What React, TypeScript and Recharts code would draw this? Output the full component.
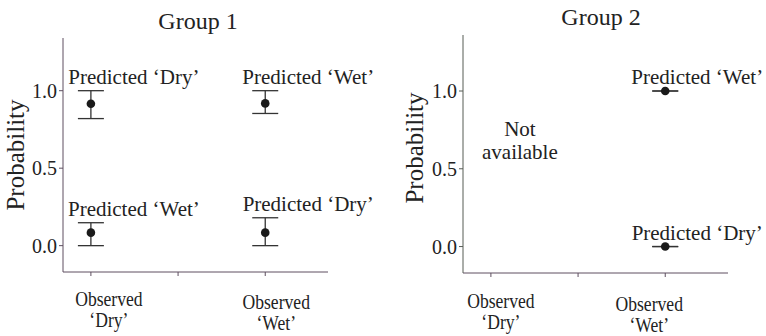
import React from 'react';
import { ComposedChart, ErrorBar, Scatter, XAxis, YAxis } from 'recharts';

const OBSERVED = ['‘Dry’', '‘Wet’'];
const Y_TICKS = [0, 0.5, 1];
const X_TICKS = [1, 1.5, 2];

// Group 1: observed class index (1 = Dry, 2 = Wet), predicted class, estimate and interval
const G1_OBS = [1, 1, 2, 2];
const G1_PRED = ['Dry', 'Wet', 'Wet', 'Dry'];
const G1_EST = [0.916, 0.084, 0.918, 0.084];
const G1_LOW = [0.82, 0, 0.853, 0];
const G1_HIGH = [1.0, 0.148, 1.0, 0.18];

// Group 2: only observed 'Wet' available
const G2_OBS = [2, 2];
const G2_PRED = ['Wet', 'Dry'];
const G2_EST = [1.0, 0.0];
const G2_LOW = [1.0, 0.0];
const G2_HIGH = [1.0, 0.0];

const FONT = '"Liberation Serif", "Times New Roman", serif';
const INK = '#222';
const AXIS = '#5e4f60';

function buildRows(obs: number[], pred: string[], est: number[], low: number[], high: number[]) {
  return obs.map((x, i) => ({
    x,
    y: est[i],
    err: [est[i] - low[i], high[i] - est[i]],
    upper: high[i],
    label: `Predicted ‘${pred[i]}’`,
  }));
}

type PanelProps = {
  title: string;
  rows: ReturnType<typeof buildRows>;
  yAxisWidth: number;
  margin: { top: number; right: number; bottom: number; left: number };
  yDomain: [number, number];
  xAxisHeight: number;
  yAxisColor: string;
  titleX: number;
  titleBaseline: number;
  yLabelX: number;
  yLabelShift: number;
  labelDx: number;
  tickDx: number[];
  tickDy: number[];
  note?: string[];
};

function Panel(p: PanelProps) {
  const XTick = (props: any) => {
    const { x, y, payload } = props;
    const idx = payload.value === 1 ? 0 : payload.value === 2 ? 1 : -1;
    if (idx < 0) return null;
    const tx = x + p.tickDx[idx];
    const ty = y + 28 + p.tickDy[idx];
    // the source lettering is a little narrow, so squeeze it horizontally
    return (
      <text
        transform={`translate(${tx},${ty}) scale(0.88,1)`}
        textAnchor="middle"
        fontFamily={FONT}
        fontSize={20}
        fill={INK}
      >
        <tspan x={0}>Observed</tspan>
        <tspan x={0} dy={21}>
          {OBSERVED[idx]}
        </tspan>
      </text>
    );
  };

  const labelRows = p.rows.map((r) => ({ x: r.x, y: r.upper, label: r.label }));

  return (
    <div style={{ position: 'relative', width: 383, height: 336 }}>
      <div
        style={{
          position: 'absolute',
          left: p.titleX - 100,
          width: 200,
          top: p.titleBaseline - 20,
          textAlign: 'center',
          fontFamily: FONT,
          fontSize: 24,
          lineHeight: '24px',
          color: INK,
        }}
      >
        {p.title}
      </div>
      <ComposedChart width={383} height={336} margin={p.margin}>
        <XAxis
          type="number"
          dataKey="x"
          domain={[0.84, 2.36]}
          ticks={X_TICKS}
          height={p.xAxisHeight}
          tickSize={4}
          stroke={AXIS}
          tickLine={{ stroke: AXIS }}
          tick={<XTick />}
        />
        <YAxis
          type="number"
          dataKey="y"
          domain={p.yDomain}
          ticks={Y_TICKS}
          width={p.yAxisWidth}
          tickSize={4}
          stroke={p.yAxisColor}
          tickFormatter={(v: number) => v.toFixed(1)}
          tick={{ fontFamily: FONT, fontSize: 20, fill: INK }}
          label={{
            content: (lp: any) => {
              const vb = lp.viewBox || { x: 0, y: 0, width: 0, height: 0 };
              const cx = vb.x + p.yLabelX;
              const cy = vb.y + vb.height / 2 + p.yLabelShift;
              return (
                <text
                  x={cx}
                  y={cy}
                  transform={`rotate(-90, ${cx}, ${cy})`}
                  textAnchor="middle"
                  fontFamily={FONT}
                  fontSize={25}
                  fill={INK}
                >
                  Probability
                </text>
              );
            },
          }}
        />
        <Scatter
          data={p.rows}
          isAnimationActive={false}
          shape={(s: any) => <circle cx={s.cx} cy={s.cy} r={4.3} fill="#1a1a1a" />}
        >
          <ErrorBar dataKey="err" direction="y" width={13} stroke="#333" strokeWidth={1.3} isAnimationActive={false} />
        </Scatter>
        <Scatter
          data={labelRows}
          isAnimationActive={false}
          shape={(s: any) => (
            <text
              x={s.cx + p.labelDx}
              y={s.cy - 7}
              textAnchor="middle"
              fontFamily={FONT}
              fontSize={21}
              fill={INK}
            >
              {s.payload.label}
            </text>
          )}
        />
        {p.note && (
          <Scatter
            data={[{ x: 1, y: 0.5, label: p.note }]}
            isAnimationActive={false}
            shape={(s: any) => (
              <text x={s.cx + 29} y={s.cy - 33} textAnchor="middle" fontFamily={FONT} fontSize={21} fill={INK}>
                <tspan x={s.cx + 29}>{s.payload.label[0]}</tspan>
                <tspan x={s.cx + 29} dy={23}>
                  {s.payload.label[1]}
                </tspan>
              </text>
            )}
          />
        )}
      </ComposedChart>
    </div>
  );
}

export default function App() {
  const g1 = buildRows(G1_OBS, G1_PRED, G1_EST, G1_LOW, G1_HIGH);
  const g2 = buildRows(G2_OBS, G2_PRED, G2_EST, G2_LOW, G2_HIGH);
  return (
    <div style={{ position: 'absolute', left: 0, top: 0, width: 766, height: 336, display: 'flex', background: '#fff' }}>
      <Panel
        title="Group 1"
        rows={g1}
        yAxisWidth={63}
        margin={{ top: 38, right: 55, bottom: 0, left: 0 }}
        yDomain={[-0.17, 1.34]}
        xAxisHeight={64}
        yAxisColor={AXIS}
        titleX={198}
        titleBaseline={29}
        yLabelX={24}
        yLabelShift={0}
        labelDx={43}
        tickDx={[18, 11]}
        tickDy={[0, 3]}
      />
      <Panel
        title="Group 2"
        rows={g2}
        yAxisWidth={80}
        margin={{ top: 35, right: 38, bottom: 0, left: 0 }}
        yDomain={[-0.17, 1.36]}
        xAxisHeight={63}
        yAxisColor="#575c55"
        titleX={218}
        titleBaseline={25}
        yLabelX={40}
        yLabelShift={-6}
        labelDx={32}
        tickDx={[10, -16]}
        tickDy={[1, 4]}
        note={['Not', 'available']}
      />
    </div>
  );
}
